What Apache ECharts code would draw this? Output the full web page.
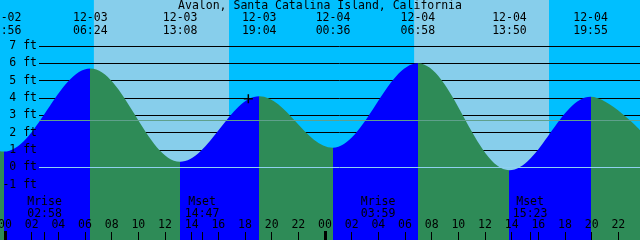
<!DOCTYPE html>
<html>
<head>
<meta charset="utf-8">
<script src="https://cdn.jsdelivr.net/npm/echarts@6/dist/echarts.min.js"></script>
<style>
    html, body { margin: 0; padding: 0; background: #00BFFF; }
    #main { width: 640px; height: 240px; }
</style>
</head>
<body>
<div id="main"></div>
<script>
// high / low tides (feet)
let tideDates = ['12-02', '12-03', '12-03', '12-03', '12-04', '12-04', '12-04', '12-04'];
let tideTimes = ['23:56', '06:24', '13:08', '19:04', '00:36', '06:58', '13:50', '19:55'];
let tideFeet = [0.9, 5.7, 0.32, 4.1, 1.13, 6.0, -0.17, 4.07];
// height of the curve where it leaves the left and right edges
let edgeFeet = [0.92, 2.15];

let sunriseDates = ['12-03', '12-04'];
let sunriseTimes = ['06:40', '06:41'];
let sunsetDates = ['12-03', '12-04'];
let sunsetTimes = ['16:48', '16:48'];

let moonNames = ['Mrise', 'Mset', 'Mrise', 'Mset'];
let moonDates = ['12-03', '12-03', '12-04', '12-04'];
let moonTimes = ['02:58', '14:47', '03:59', '15:23'];

let hourTicks = [0, 2, 4, 6, 8, 10, 12, 14, 16, 18, 20, 22, 24, 26, 28, 30, 32, 34, 36, 38, 40, 42, 44, 46];
let midnightTicks = [0, 24];
let levelFeet = [-1, 0, 1, 2, 3, 4, 5, 6, 7];
let meanLevel = 2.71;
let nowMark = ['12-03', '18:15', 3.95];

const X_MIN = -0.375, X_MAX = 47.625;   // hours from 12-03 00:00
const Y_MIN = -4.2, Y_MAX = 9.65;
const LINE_START = X_MIN + (X_MAX - X_MIN) * 39 / 640;

const NIGHT = '#00BFFF', DAY = '#87CEEB', RISE = '#0000FF', FALL = '#2E8B57';
const FONT = 'DejaVu Sans Mono';

function toHours(date, time) {
    let day = parseInt(date.split('-')[1], 10);
    let hm = time.split(':');
    return (day - 3) * 24 + parseInt(hm[0], 10) + parseInt(hm[1], 10) / 60;
}

let tideHours = tideDates.map((d, i) => toHours(d, tideTimes[i]));
let moonHours = moonDates.map((d, i) => toHours(d, moonTimes[i]));

let curve = [[X_MIN, edgeFeet[0]]];
tideHours.forEach((h, i) => curve.push([h, tideFeet[i]]));
curve.push([X_MAX, edgeFeet[1]]);

// rising water blue, falling water green
let pieces = [];
for (let i = 0; i + 1 < curve.length; i++) {
    let color = curve[i + 1][1] > curve[i][1] ? RISE : FALL;
    let p = {color: color};
    if (i > 0) p.gte = curve[i][0];
    if (i + 2 < curve.length) p.lt = curve[i + 1][0];
    pieces.push(p);
}

let days = sunriseDates.map((d, i) => [
    {xAxis: toHours(d, sunriseTimes[i])},
    {xAxis: toHours(sunsetDates[i], sunsetTimes[i])}
]);

let levels = levelFeet.map(v => [{coord: [LINE_START, v]}, {coord: [X_MAX, v]}]);

function findIndex(list, v) {
    return list.findIndex(h => Math.abs(h - v) < 1e-6);
}

let textStyle = {color: '#000', fontFamily: FONT, fontSize: 11.5};

let myChart = echarts.init(document.getElementById('main'), null, {renderer: 'canvas'});

let option = {
    backgroundColor: NIGHT,
    animation: false,
    title: {
        text: 'Avalon, Santa Catalina Island, California',
        left: 'center',
        top: 0,
        padding: 0,
        textStyle: {color: '#000', fontFamily: FONT, fontSize: 11.5, fontWeight: 'normal', lineHeight: 12}
    },
    grid: {left: 0, right: 0, top: 0, bottom: 0, containLabel: false, outerBoundsMode: 'none'},
    visualMap: {
        show: false,
        type: 'piecewise',
        dimension: 0,
        seriesIndex: 0,
        pieces: pieces
    },
    xAxis: [
        {
            type: 'value', position: 'bottom', min: X_MIN, max: X_MAX, z: 10,
            axisLine: {show: false, onZero: false},
            splitLine: {show: false},
            axisTick: {
                show: true, inside: true, length: 8,
                customValues: hourTicks.concat(moonHours),
                lineStyle: {color: '#000', width: 1}
            },
            axisLabel: Object.assign({
                inside: true, margin: 8, lineHeight: 13,
                customValues: hourTicks,
                formatter: v => String(((v % 24) + 24) % 24).padStart(2, '0')
            }, textStyle)
        },
        {
            type: 'value', position: 'top', min: X_MIN, max: X_MAX, z: 10,
            axisLine: {show: false, onZero: false}, axisTick: {show: false}, splitLine: {show: false},
            axisLabel: Object.assign({
                inside: true, margin: 11.5, lineHeight: 13,
                customValues: tideHours,
                formatter: v => {
                    let i = findIndex(tideHours, v);
                    return i < 0 ? '' : tideDates[i] + '\n' + tideTimes[i];
                }
            }, textStyle)
        },
        {
            type: 'value', position: 'bottom', min: X_MIN, max: X_MAX, z: 10,
            axisLine: {show: false, onZero: false}, axisTick: {show: false}, splitLine: {show: false},
            axisLabel: Object.assign({
                inside: true, margin: 20.5, lineHeight: 11.5,
                customValues: moonHours,
                formatter: v => {
                    let i = findIndex(moonHours, v);
                    return i < 0 ? '' : moonNames[i] + '\n' + moonTimes[i];
                }
            }, textStyle)
        },
        {
            type: 'value', position: 'bottom', min: X_MIN, max: X_MAX, z: 10,
            axisLine: {show: false, onZero: false}, splitLine: {show: false},
            axisLabel: {show: false},
            axisTick: {
                show: true, inside: true, length: 9,
                customValues: midnightTicks,
                lineStyle: {color: '#000', width: 3}
            }
        }
    ],
    yAxis: {
        type: 'value', min: Y_MIN, max: Y_MAX, z: 10,
        axisLine: {show: false, onZero: false}, axisTick: {show: false}, splitLine: {show: false},
        axisLabel: Object.assign({
            inside: true, align: 'right', margin: 37,
            customValues: levelFeet,
            formatter: v => v + ' ft'
        }, textStyle)
    },
    series: [
        {
            name: 'tide',
            type: 'line',
            data: curve,
            smooth: 0.36,
            smoothMonotone: 'x',
            symbol: 'none',
            silent: true,
            z: 2,
            lineStyle: {width: 0, opacity: 0},
            areaStyle: {opacity: 1, origin: 'start'},
            markArea: {
                silent: true,
                z: 1,
                itemStyle: {color: DAY, opacity: 1, borderWidth: 0},
                data: days
            },
            markLine: {
                silent: true,
                z: 1.5,
                symbol: ['none', 'none'],
                label: {show: false},
                lineStyle: {color: '#000', width: 1, type: 'solid', opacity: 1},
                data: levels
            }
        },
        {
            name: 'now',
            type: 'scatter',
            data: [[toHours(nowMark[0], nowMark[1]), nowMark[2]]],
            symbol: 'path://M3.75,0H5.25V9H3.75ZM0,3.75H9V5.25H0Z',
            symbolSize: 9,
            itemStyle: {color: '#000', opacity: 1},
            silent: true,
            z: 4,
            markLine: {
                silent: true,
                z: 3,
                symbol: ['none', 'none'],
                label: {show: false},
                lineStyle: {width: 1, type: 'solid', opacity: 1},
                data: [
                    [{coord: [LINE_START, meanLevel], lineStyle: {color: '#5FA08C'}}, {coord: [X_MAX, meanLevel]}],
                    [{coord: [LINE_START, 0], lineStyle: {color: '#8FD0F0'}}, {coord: [X_MAX, 0]}]
                ]
            }
        }
    ]
};

myChart.setOption(option);
</script>
</body>
</html>
